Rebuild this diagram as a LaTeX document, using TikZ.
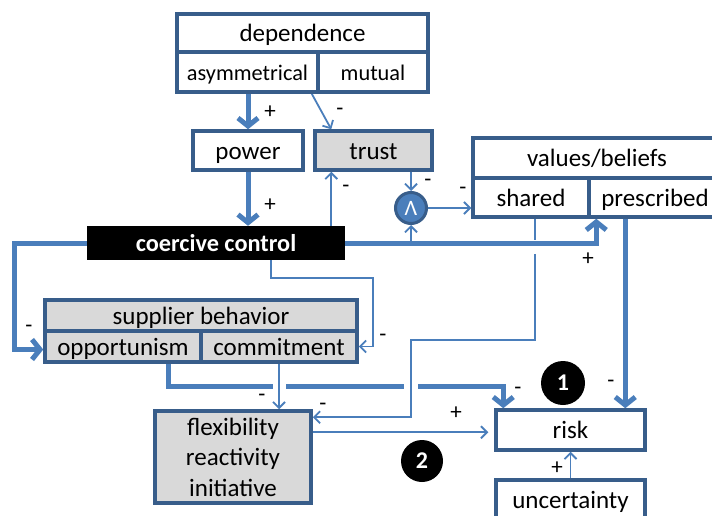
\documentclass[tikz,border=0pt]{standalone}
\usepackage{fontspec}
\setmainfont{Carlito}
\usetikzlibrary{arrows.meta,calc}
\definecolor{boxblue}{HTML}{385D8A}
\definecolor{lineblue}{HTML}{4A7EBB}
\definecolor{cellgray}{HTML}{D9D9D9}
\pgfdeclarelayer{background}
\pgfsetlayers{background,main}
\tikzset{
  cellbase/.style={draw=boxblue, line width=3.5pt, fill=white, inner sep=0pt, text=black},
  cell/.style={cellbase, text height=18pt, text depth=1pt, font=\fontsize{25}{29}\selectfont},
  smallcell/.style={cell, font=\fontsize{22.3}{26}\selectfont},
  graycell/.style={cell, fill=cellgray},
  blackbox/.style={fill=black, inner sep=0pt, text=white, text height=17pt, text depth=1pt,
    font=\bfseries\fontsize{24.3}{28}\selectfont},
  thickline/.style={draw=lineblue, line width=5pt},
  thinline/.style={draw=lineblue, line width=1.8pt},
  thickarrow/.style={thickline, -{Straight Barb[length=8pt,width=20pt]}},
  thinarrow/.style={thinline, -{Straight Barb[length=6pt,width=12pt]}},
  sign/.style={font=\fontsize{23}{23}\selectfont, inner sep=0pt, text=black},
  badge/.style={circle, fill=black, text=white, inner sep=0pt, font=\bfseries\fontsize{24}{24}\selectfont},
  andnode/.style={circle, fill=lineblue, draw=boxblue, line width=3pt, minimum size=31pt, inner sep=0pt, text=white,
    font=\fontsize{22}{22}\selectfont}
}
\begin{document}
\begin{tikzpicture}[x=1pt,y=-1pt]
\useasboundingbox (0,0) rectangle (712,516);
\clip (0,0) rectangle (712,516);

% boxes
\node[cell, minimum width=251pt, minimum height=38pt] (dep) at (302.5,33) {dependence};
\node[smallcell, minimum width=141pt, minimum height=40pt] (asym) at (247.5,72) {asymmetrical};
\node[smallcell, minimum width=110pt, minimum height=40pt] (mutual) at (373,72) {mutual};
\node[cell, minimum width=110pt, minimum height=39pt] (power) at (248,150.5) {power};
\node[graycell, minimum width=117pt, minimum height=39pt] (trust) at (373.5,150.5) {trust};
\node[blackbox, minimum width=258pt, minimum height=34pt] (cc) at (216,243) {coercive control};
\node[andnode] (and) at (411,208) {Λ};
\node[cell, minimum width=248pt, minimum height=40pt] (vb) at (597,158) {values/beliefs};
\node[cell, minimum width=116pt, minimum height=39pt] (shared) at (531,197.5) {shared};
\node[cell, minimum width=132pt, minimum height=39pt] (prescribed) at (655,197.5) {prescribed};
\node[graycell, minimum width=312pt, minimum height=31pt] (supp) at (201,315.5) {supplier behavior};
\node[graycell, minimum width=156pt, minimum height=31pt] (opp) at (123,346.5) {opportunism};
\node[graycell, minimum width=156pt, minimum height=31pt] (commit) at (279,346.5) {commitment};
\node[cellbase, fill=cellgray, minimum width=156pt, minimum height=92pt, align=center,
      font=\fontsize{25}{30.5}\selectfont] (flex) at (233,457) {flexibility\\reactivity\\initiative};
\node[cell, minimum width=149pt, minimum height=40pt] (risk) at (570.5,430) {risk};
\node[cell, minimum width=149pt, minimum height=40pt] (unc) at (570.5,500) {uncertainty};
\node[badge, minimum size=44pt] (b1) at (563,383) {1};
\node[badge, minimum size=42pt] (b2) at (422,461) {2};

\begin{pgfonlayer}{background}
% dependence -> power, trust
\draw[thickarrow] (power.north |- asym.south) -- (power.north);
\draw[thinarrow] ([xshift=-8pt]asym.south east) -- ([xshift=18pt]trust.north west);
% power -> coercive control
\draw[thickarrow] (power.south) -- (power.south |- cc.north);
% coercive control -> trust
\coordinate (tx) at ([xshift=18pt]trust.south west);
\draw[thinarrow] (tx |- cc.north) -- (tx);
% trust -> and, control -> and, and -> shared
\draw[thinarrow] (and.north |- trust.south) -- (and.north);
\draw[thinarrow] (and.south |- cc.east) -- (and.south);
\draw[thinarrow] (and.east) -- (and.east -| shared.west);
% coercive control -> prescribed
\coordinate (pin) at ([xshift=9pt]prescribed.south west);
\draw[thickarrow] (cc.east) -| (pin);
% prescribed -> risk
\coordinate (pout) at ([xshift=38pt]prescribed.south west);
\draw[thickarrow] (pout) -- (pout |- risk.north);
% coercive control -> opportunism
\draw[thickarrow] (cc.west) -- ++(-72pt,0) |- ([yshift=-3pt]opp.west);
% coercive control -> commitment
\coordinate (cb) at ([xshift=55pt]cc.south);
\coordinate (cr) at (373,278);
\draw[thinarrow] (cb) |- (cr) |- (commit.east);
% commitment -> flexibility
\draw[thinarrow] (commit.south) -- (commit.south |- flex.north);
% shared -> flexibility
\coordinate (sb) at ([xshift=4pt]shared.south);
\coordinate (sc) at (411,340);
\draw[thinline] (sb) -- ([yshift=-21pt]sb);
\draw[thinarrow] ([yshift=-35pt]sb) |- (sc) |- ([yshift=-8pt]flex.north east);
% opportunism -> risk (with gaps)
\coordinate (ob) at ([xshift=45pt]opp.south);
\coordinate (rt) at ([xshift=9pt]risk.north west);
\coordinate (g1) at (273,386);
\coordinate (g2) at (286,386);
\coordinate (g3) at (404,386);
\coordinate (g4) at (418,386);
\draw[thickline] (ob) |- (g1);
\draw[thickline] (g2) -- (g3);
\draw[thickarrow] (g4) -| (rt);
% flexibility -> risk
\coordinate (fr) at ([yshift=-23pt]flex.north east);
\draw[thinarrow, shorten >=6pt] (fr) -- (fr -| risk.west);
% uncertainty -> risk
\draw[thinarrow] (unc.north) -- (risk.south);
\end{pgfonlayer}

% signs
\node[sign] (s1) at (270,112) {+};
\node[sign] (s2) at (340,112) {-};
\node[sign] (s3) at (270,205) {+};
\node[sign] (s4) at (346,189) {-};
\node[sign] (s5) at (428,183) {-};
\node[sign] (s6) at (463,191) {-};
\node[sign] (s7) at (588,259) {+};
\node[sign] (s8) at (29,329) {-};
\node[sign] (s9) at (383,338) {-};
\node[sign] (s10) at (262,398) {-};
\node[sign] (s11) at (323,407) {-};
\node[sign] (s12) at (456,413) {+};
\node[sign] (s13) at (518,391) {-};
\node[sign] (s14) at (611,384) {-};
\node[sign] (s15) at (557,468) {+};
\end{tikzpicture}
\end{document}
